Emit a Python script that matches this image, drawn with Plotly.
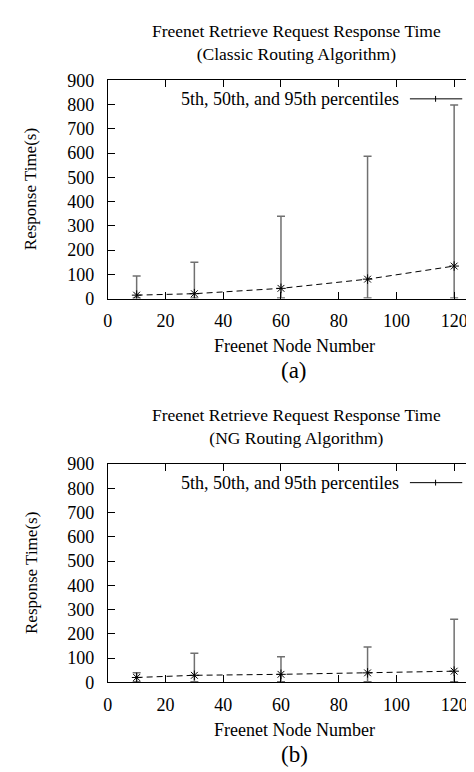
import plotly.graph_objects as go

# ---- data ----
node_numbers = [10, 30, 60, 90, 120]

classic_p5 = [2, 2, 2, 2, 2]
classic_p50 = [14, 20, 42, 80, 134]
classic_p95 = [93, 150, 339, 587, 798]

ng_p5 = [2, 2, 2, 2, 2]
ng_p50 = [20, 29, 33, 39, 46]
ng_p95 = [40, 120, 105, 146, 260]

x_ticks = [0, 20, 40, 60, 80, 100, 120]
y_ticks = [0, 100, 200, 300, 400, 500, 600, 700, 800, 900]

W, H = 474, 772
FONT = "Liberation Serif"


def px(x):
    return x / W


def py(y):
    return 1 - y / H


panels = [
    dict(p5=classic_p5, p50=classic_p50, p95=classic_p95,
         sub="(Classic Routing Algorithm)", tag="(a)", top=64, bottom=288,
         xa="x", ya="y"),
    dict(p5=ng_p5, p50=ng_p50, p95=ng_p95,
         sub="(NG Routing Algorithm)", tag="(b)", top=458, bottom=682,
         xa="x2", ya="y2"),
]

fig = go.Figure()
annotations = []
shapes = []


def note(text, x, y, size, xanchor="center", angle=0):
    annotations.append(dict(text=text, x=px(x), y=py(y), xref="paper", yref="paper",
                            xanchor=xanchor, yanchor="middle", textangle=angle,
                            showarrow=False,
                            font=dict(family=FONT, size=size, color="black")))


for i, p in enumerate(panels):
    plus = [h - m for h, m in zip(p["p95"], p["p50"])]
    minus = [m - l for m, l in zip(p["p50"], p["p5"])]
    fig.add_trace(go.Scatter(
        x=node_numbers, y=p["p50"], mode="markers",
        marker=dict(size=1, opacity=0),
        error_y=dict(type="data", array=plus, arrayminus=minus,
                     color="#707070", thickness=1.5, width=4),
        xaxis=p["xa"], yaxis=p["ya"], showlegend=False, hoverinfo="skip"))
    fig.add_trace(go.Scatter(
        x=node_numbers, y=p["p50"], mode="lines+markers",
        line=dict(color="black", width=1, dash="6px,4px"),
        marker=dict(symbol="asterisk-open", size=8,
                    line=dict(color="black", width=1)),
        xaxis=p["xa"], yaxis=p["ya"], showlegend=False))

    top, bot = p["top"], p["bottom"]
    note("Freenet Retrieve Request Response Time<br>" + p["sub"], 287, top - 39, 17.5)
    note("Freenet Node Number", 285, bot + 49, 18)
    note(p["tag"], 285, bot + 74, 23)
    note("Response Time(s)", 18, (top + bot) / 2, 17, angle=-90)
    # legend key
    ly = top + 19
    note("5th, 50th, and 95th percentiles", 393, ly, 18, xanchor="right")
    shapes.append(dict(type="line", xref="paper", yref="paper",
                       x0=px(402), x1=px(455), y0=py(ly), y1=py(ly),
                       line=dict(color="black", width=1)))
    shapes.append(dict(type="line", xref="paper", yref="paper",
                       x0=px(428), x1=px(428), y0=py(ly - 3), y1=py(ly + 3),
                       line=dict(color="black", width=1)))

axis_common = dict(showline=True, linecolor="black", linewidth=1, mirror="allticks",
                   ticks="inside", ticklen=7, tickcolor="black", tickwidth=1.2,
                   showgrid=False, zeroline=False,
                   tickfont=dict(family=FONT, size=18, color="black"))

layout_axes = {}
for i, p in enumerate(panels):
    sfx = "" if i == 0 else "2"
    layout_axes["xaxis" + sfx] = dict(axis_common, domain=[px(96), 1.0], range=[0, 129.3],
                                      tickvals=x_ticks, anchor="y" + sfx,
                                      ticklabelstandoff=6)
    layout_axes["yaxis" + sfx] = dict(axis_common, domain=[py(p["bottom"]), py(p["top"])],
                                      range=[0, 900], tickvals=y_ticks, anchor="x" + sfx,
                                      ticklabelstandoff=9)

fig.update_layout(
    width=W, height=H,
    margin=dict(l=0, r=0, t=0, b=0),
    paper_bgcolor="white", plot_bgcolor="white",
    annotations=annotations, shapes=shapes,
    showlegend=False,
    **layout_axes,
)

fig.write_html("out.html")
